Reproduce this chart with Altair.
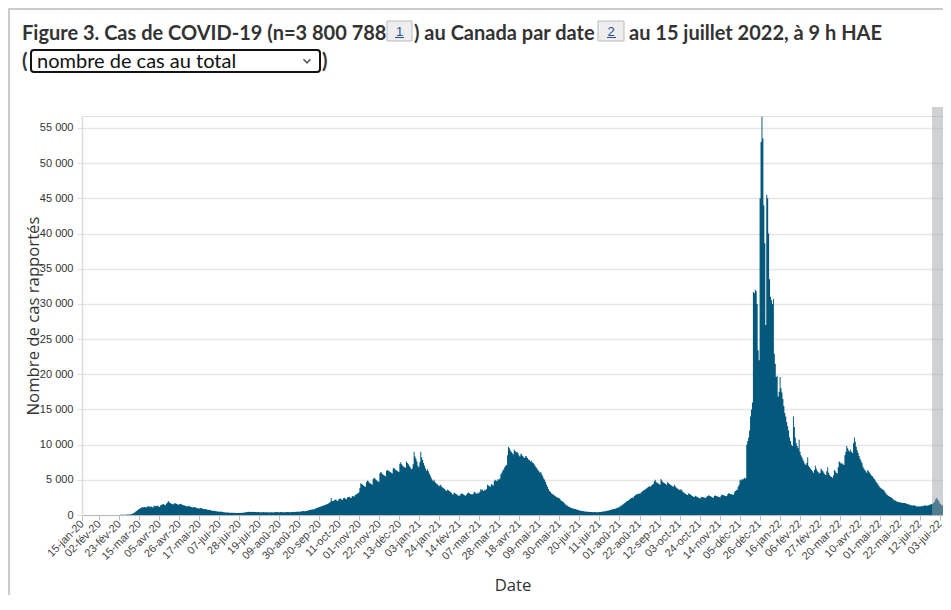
import altair as alt
import pandas as pd

# ---------------- data (daily reported cases) ----------------
START = "2020-01-15"
jan20 = [0,0,0,0,0,0,0,0,0,0,1,0,0,0,0,1,0]
feb20 = [0,0,0,0,0,0,0,0,0,0,0,0,0,0,0,0,0,0,1,2,5,10,15,20,25,30,35,40,45]
mar20 = [50,55,60,70,80,100,150,220,300,400,500,600,700,800,900,1000,1050,1100,1100,1150,
         1100,1050,1200,1250,1200,1150,1250,1100,1050,1300,1250]
apr20 = [1300,1250,1350,1200,1150,1400,1450,1500,1550,1450,1400,1600,1750,2000,1850,1700,1650,1550,1500,1600,
         1700,1650,1550,1500,1450,1550,1600,1500,1450,1400]
may20 = [1350,1300,1250,1200,1300,1250,1200,1150,1100,1050,1150,1100,1050,1000,950,900,950,1000,950,900,
         850,800,850,800,750,700,750,700,650,600,620]
jun20 = [580,600,550,520,500,470,450,480,450,420,400,380,360,370,350,340,330,320,310,330,
         320,300,310,300,290,300,310,300,320,300]
jul20 = [320,330,350,380,400,420,450,430,460,440,420,450,430,410,420,400,410,430,400,390,
         380,400,410,390,380,400,390,380,370,390,400]
aug20 = [380,370,390,400,420,410,390,380,400,410,420,400,390,380,400,410,430,420,400,390,
         410,420,440,450,430,420,460,480,470,460,500]
sep20 = [520,540,560,550,530,580,600,650,700,720,750,800,780,820,900,950,1000,1050,1100,1150,
         1200,1250,1300,1350,1400,1450,1500,1550,1650,1750]
oct20 = [1850,2400,2000,1950,2100,2150,2200,2050,2000,2250,2300,2350,2200,2150,2400,2450,2300,2250,2500,2550,
         2600,2450,2400,2650,2700,2600,2800,2900,3000,3100,3200]
nov20 = [3800,4500,4400,4300,4200,4100,4000,4700,4900,4800,4600,4500,4400,4300,5100,5300,5200,5000,4900,4800,
         4700,5900,6100,6000,5800,5700,5600,5500,6300,6400]
dec20 = [6300,6200,6100,6000,5900,6600,6700,6500,6400,6300,6200,6100,7300,7500,7200,7000,6900,6800,6700,7600,
         7400,7200,7000,6800,6500,6600,7200,9000,8300,8000,7600]
jan21 = [7000,6800,7500,9000,8200,7800,7400,7000,6600,6300,6500,6200,5900,5600,5300,5000,4800,5000,4700,4500,
         4400,4300,4100,4200,4300,4000,3900,3800,3700,3500,3400]
feb21 = [3600,3500,3400,3300,3200,3000,2900,3200,3100,3000,2900,2800,2700,2800,3000,3100,3000,2900,2800,2750,
         2900,3100,3200,3100,3000,2950,2900,3000]
mar21 = [3300,3200,3100,3000,3200,3100,3300,3700,3600,3500,3400,3600,3500,3700,4300,4200,4100,4000,4400,4300,
         4200,4800,5000,4900,4800,5100,5000,5200,5800,6000,6300]
apr21 = [6500,6800,7000,7100,8500,9700,9500,9200,9000,8800,8600,9300,9100,8900,9000,8800,8500,8300,8700,8600,
         8400,8200,8100,8400,8300,8100,7900,7800,7600,7700]
may21 = [7500,7400,7200,7000,6800,6600,6400,6200,6000,6100,5800,5500,5200,5000,4700,4300,4000,3700,3400,3300,
         3100,3000,2900,2800,2700,2600,2500,2450,2400,2300,2100]
jun21 = [2000,1900,1800,1650,1500,1400,1300,1200,1150,1050,1000,950,900,880,850,800,750,700,680,650,
         600,580,560,530,500,480,470,460,450,440]
jul21 = [430,420,410,400,410,420,400,390,400,410,420,430,450,480,500,520,550,600,620,650,
         680,700,750,800,820,850,900,950,1000,1050,1100]
aug21 = [1200,1300,1400,1500,1600,1700,1800,1950,2000,2100,2200,2300,2400,2500,2450,2700,2800,2900,2950,3000,
         3100,3000,3200,3300,3400,3500,3600,3700,3800,3900,4000]
sep21 = [4100,4000,4200,4300,4400,4800,5000,4700,4600,4500,4400,4300,5100,4900,4700,4600,4500,4400,4300,4700,
         4500,4400,4300,4200,4100,4000,4300,4100,3900,3800]
oct21 = [3700,3600,3500,3700,3500,3300,3200,3100,3000,2900,2850,3100,3000,2900,2800,2700,2600,2550,2750,2650,
         2550,2500,2400,2350,2500,2600,2550,2500,2450,2400,2600]
nov21 = [2700,2800,2750,2650,2600,2500,2450,2700,2800,2700,2650,2600,2550,2500,2750,2900,2850,2800,2750,2700,
         2650,2950,3100,3050,3000,2950,2900,2850,3200,3400]
dec21 = [3500,3600,4000,4300,5000,4900,5100,5000,5200,5300,5200,10000,10500,11000,12000,14000,15000,16000,31700,31500,
         32000,31800,30000,23400,22000,45000,53000,56600,53500,44000,38600]
jan22 = [27000,45500,45000,40000,33500,31000,30500,30000,30700,22900,21500,19600,19800,16800,17500,19600,18000,17400,16500,15500,
         14500,14000,13200,12600,12000,11000,10500,10000,9800,14000,12500]
feb22 = [11000,10200,9800,9500,10700,9000,8500,8200,7900,7600,7300,7100,7400,8200,7000,6800,6600,6400,6200,6000,
         6400,7000,6600,6300,6100,5900,6000,6600]
mar22 = [6400,6200,6000,5800,5700,6200,6800,6000,5700,5500,5400,5300,5600,6400,6200,6000,5900,6800,7600,7500,
         7300,7400,7200,7100,8500,9000,9800,9500,9200,9000,9300]
apr22 = [9000,8800,10200,11000,10400,9700,9200,8800,8400,8000,7700,7400,6900,6600,6400,6200,6000,6400,6200,6000,
         5800,5600,5500,5300,5100,4900,4700,4500,4300,4100]
may22 = [3900,3800,3700,3600,3500,3300,3100,2900,2800,2700,2600,2550,2450,2350,2200,2100,2050,1950,1900,1850,
         1800,1800,1750,1750,1700,1700,1700,1650,1600,1550,1500]
jun22 = [1450,1400,1400,1350,1400,1350,1300,1250,1200,1250,1200,1200,1250,1300,1250,1300,1400,1350,1300,1350,
         1400,1450,1500,1550,1600,1700,1900,2200,2400,2300]
jul22 = [2100,1900,1600,1500,1400,1300,1300,1200,1100,1000,900,800,700,500,300]

MONTHS = [jan20, feb20, mar20, apr20, may20, jun20, jul20, aug20, sep20, oct20, nov20, dec20,
          jan21, feb21, mar21, apr21, may21, jun21, jul21, aug21, sep21, oct21, nov21, dec21,
          jan22, feb22, mar22, apr22, may22, jun22, jul22]

# shaded period of incomplete data
BAND_START = "2022-06-25"
BAND_END = "2022-07-15"

# x tick dates (every 3 weeks) and French month abbreviations
TICK_DATES = ["2020-01-15"] + [d.strftime("%Y-%m-%d") for d in pd.date_range("2020-02-02", "2022-07-03", freq="21D")]
MOIS = ["jan", "fév", "mar", "avr", "mai", "jui", "jui", "aoû", "sep", "oct", "nov", "déc"]
Y_TICKS = list(range(0, 55001, 5000))

TITLE_1 = "Figure 3. Cas de COVID-19 (n=3 800 788"
TITLE_2 = ") au Canada par date"
TITLE_3 = "au 15 juillet 2022, à 9 h HAE"
SELECT_TXT = "nombre de cas au total"

# ---------------- build ----------------
values = [v for m in MONTHS for v in m]
dates = pd.date_range(START, periods=len(values), freq="D")
df = pd.DataFrame({"date": dates.strftime("%Y-%m-%d"), "cases": values})
band = pd.DataFrame({"date": [BAND_START], "date_end": [BAND_END]})
one = pd.DataFrame({"k": [0]})

def ms(s):
    return int(pd.Timestamp(s, tz="UTC").value // 10**6)

W, H = 861, 399
BOTTOM = 80
PX_PER_DAY = 0.953
d0 = ms(START)
d1 = d0 + int(W / PX_PER_DAY * 86400000)
xscale = alt.Scale(type="utc", domain=[d0, d1], nice=False)

BAR = "#03587b"
mois_js = "[" + ",".join("'%s'" % m for m in MOIS) + "]"
xlabel = "utcFormat(datum.value,'%d') + '-' + " + mois_js + "[utcmonth(datum.value)] + '-' + utcFormat(datum.value,'%y')"

X_AXIS = alt.Axis(values=[ms(t) for t in TICK_DATES], labelExpr=xlabel, labelAngle=315,
                  labelAlign="right", labelBaseline="middle", labelPadding=2,
                  labelFont="Liberation Sans", labelFontSize=11, labelColor="#444",
                  labelOverlap=False, labelFlush=False, labelBound=False,
                  grid=False, domainColor="#bbb", tickColor="#bbb", tickSize=5,
                  titleFont="Open Sans", titleFontSize=16.7, titleFontWeight="normal",
                  titleColor="#333", titleY=75, titleBaseline="alphabetic")

area = alt.Chart(df).mark_area(interpolate="step-after", color=BAR, clip=True).encode(
    x=alt.X("date:T", scale=xscale, title="Date", axis=X_AXIS),
    y=alt.Y("cases:Q", scale=alt.Scale(domain=[0, 56700], nice=False), title="Nombre de cas rapportés",
            axis=alt.Axis(values=Y_TICKS, labelExpr="replace(format(datum.value, ','), ',', ' ')",
                          labelFont="Liberation Sans", labelFontSize=11, labelColor="#333", labelPadding=4,
                          grid=True, gridColor="#e6e6e6", gridWidth=1.5, domainColor="#dddddd", domainWidth=1.5,
                          tickColor="#dddddd", tickSize=5,
                          titleFont="Open Sans", titleFontSize=16.7, titleFontWeight="normal", titleColor="#333",
                          titleX=-49, titleBaseline="middle")),
)

shade = alt.Chart(band).mark_rect(fill="#a0a3a6", opacity=0.5).encode(
    x=alt.X("date:T", scale=xscale, title="Date", axis=X_AXIS), x2="date_end:T",
    y=alt.value(-9), y2=alt.value(H),
)

def txt(s, x, y, size=20, weight="bold", color="#333", align="left", font="Lato"):
    return alt.Chart(one).mark_text(text=s, align=align, baseline="alphabetic", fontSize=size,
                                    fontWeight=weight, color=color, font=font).encode(
        x=alt.value(x), y=alt.value(y))

def box(x1, x2, y1, y2, fill, stroke, sw=1, r=0):
    return alt.Chart(one).mark_rect(fill=fill, stroke=stroke, strokeWidth=sw, cornerRadius=r).encode(
        x=alt.value(x1), x2=alt.value(x2), y=alt.value(y1), y2=alt.value(y2))

deco = [
    alt.Chart(one).mark_rule(color="#cccccc", strokeWidth=2).encode(x=alt.value(-73), y=alt.value(-108), y2=alt.value(H + BOTTOM)),
    alt.Chart(one).mark_rule(color="#cccccc", strokeWidth=2).encode(x=alt.value(-74), x2=alt.value(W), y=alt.value(-107)),
    txt(TITLE_1, -60, -76),
    box(305, 330, -95, -75, "#eeeeee", "#bbbbbb"),
    txt("1", 317.5, -80, size=13, weight="normal", color="#284e8f", align="center", font="Liberation Sans"),
    alt.Chart(one).mark_rule(color="#284e8f", strokeWidth=1).encode(x=alt.value(313), x2=alt.value(322), y=alt.value(-78.5)),
    txt(TITLE_2, 332, -76),
    box(516, 542, -95, -75, "#eeeeee", "#bbbbbb"),
    txt("2", 529, -80, size=13, weight="normal", color="#284e8f", align="center", font="Liberation Sans"),
    alt.Chart(one).mark_rule(color="#284e8f", strokeWidth=1).encode(x=alt.value(525), x2=alt.value(534), y=alt.value(-78.5)),
    txt(TITLE_3, 547, -76),
    txt("(", -60, -48),
    box(-51, 238, -66, -44, "#ffffff", "#111111", sw=2, r=3),
    txt(SELECT_TXT, -45, -48, weight="normal", color="#111"),
    alt.Chart(one).mark_point(shape="M-1,-0.5L0,0.5L1,-0.5", filled=False, size=50, strokeWidth=1.6,
                              color="#111").encode(x=alt.value(225), y=alt.value(-55)),
    txt(")", 240, -48),
]

chart = alt.layer(area, shade, *deco).properties(
    width=W, height=H,
    padding={"left": 74, "top": 108, "right": 0, "bottom": BOTTOM},
    autosize=alt.AutoSizeParams(type="none"),
).configure_view(stroke=None).configure(background="white")

chart.save("out.html", embed_options={"renderer": "svg", "actions": False})
